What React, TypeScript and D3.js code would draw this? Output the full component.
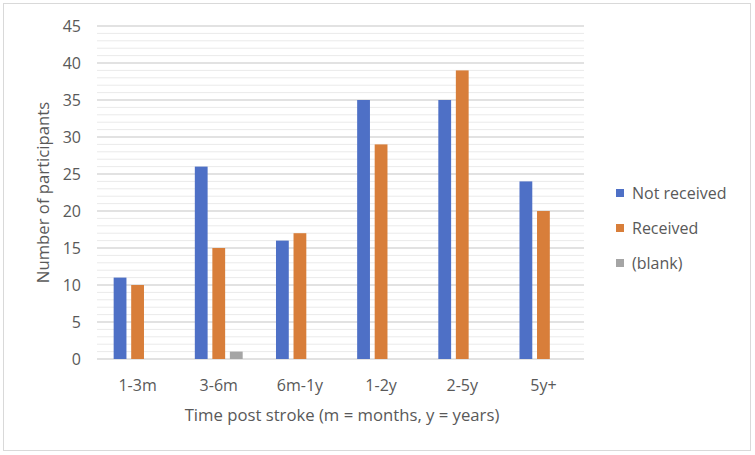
import React from "react";
import * as d3 from "d3";

const categories = ["1-3m", "3-6m", "6m-1y", "1-2y", "2-5y", "5y+"];
const seriesNames = ["Not received", "Received", "(blank)"];
const notReceived = [11, 26, 16, 35, 35, 24];
const received = [10, 15, 17, 29, 39, 20];
const blank = [0, 1, 0, 0, 0, 0];
const yTicks = [0, 5, 10, 15, 20, 25, 30, 35, 40, 45];
const colors = ["#4E70C6", "#D87E3A", "#A5A5A5"];

const W = 755;
const H = 455;
const plot = { left: 97, right: 584, top: 26, bottom: 359 };
const FONT = "'Open Sans', 'Liberation Sans', sans-serif";
const TXT = "#595959";

export default function App() {
  const x = d3.scaleBand<string>().domain(categories).range([plot.left, plot.right]);
  const y = d3.scaleLinear().domain([0, 45]).range([plot.bottom, plot.top]);
  const inner = d3
    .scaleBand<string>()
    .domain(seriesNames)
    .range([0, x.bandwidth()])
    .paddingInner(0.27)
    .paddingOuter(0.95);
  const series = [notReceived, received, blank];
  const minorTicks = d3.range(0, 46, 1).filter((v) => v % 5 !== 0);

  return (
    <svg
      width={W}
      height={H}
      style={{ position: "absolute", left: 0, top: 0, display: "block", background: "#fff" }}
    >
      <rect x={3.5} y={3.5} width={747} height={447} fill="#fff" stroke="#D9D9D9" strokeWidth={1} />
      {minorTicks.map((v) => (
        <line key={"m" + v} x1={plot.left} x2={plot.right} y1={y(v)} y2={y(v)} stroke="#EAEAEA" strokeWidth={1} />
      ))}
      {yTicks.map((v) => (
        <line key={"g" + v} x1={plot.left} x2={plot.right} y1={y(v)} y2={y(v)} stroke="#D9D9D9" strokeWidth={1.3} />
      ))}
      {yTicks.map((v) => (
        <text key={"t" + v} x={81} y={y(v)} dy="0.36em" textAnchor="end" fontFamily={FONT} fontSize={16} fill={TXT}>
          {v}
        </text>
      ))}
      {series.map((vals, si) =>
        vals.map((v, ci) =>
          v > 0 ? (
            <rect
              key={si + "-" + ci}
              x={(x(categories[ci]) as number) + (inner(seriesNames[si]) as number)}
              y={y(v)}
              width={inner.bandwidth()}
              height={y(0) - y(v)}
              fill={colors[si]}
            />
          ) : null
        )
      )}
      {categories.map((c) => (
        <text
          key={c}
          x={(x(c) as number) + x.bandwidth() / 2}
          y={385}
          dy="0.36em"
          textAnchor="middle"
          fontFamily={FONT}
          fontSize={16}
          fill={TXT}
        >
          {c}
        </text>
      ))}
      <text x={342} y={415} dy="0.36em" textAnchor="middle" fontFamily={FONT} fontSize={16.7} fill={TXT}>
        Time post stroke (m = months, y = years)
      </text>
      <text
        transform={`translate(43,${(plot.top + plot.bottom) / 2}) rotate(-90)`}
        dy="0.36em"
        textAnchor="middle"
        fontFamily={FONT}
        fontSize={16.7}
        fill={TXT}
      >
        Number of participants
      </text>
      {seriesNames.map((s, i) => (
        <g key={s} transform={`translate(616,${193 + i * 35})`}>
          <rect x={0} y={-4} width={8} height={8} fill={colors[i]} />
          <text x={16} y={0} dy="0.36em" fontFamily={FONT} fontSize={16} fill={TXT}>
            {s}
          </text>
        </g>
      ))}
    </svg>
  );
}
